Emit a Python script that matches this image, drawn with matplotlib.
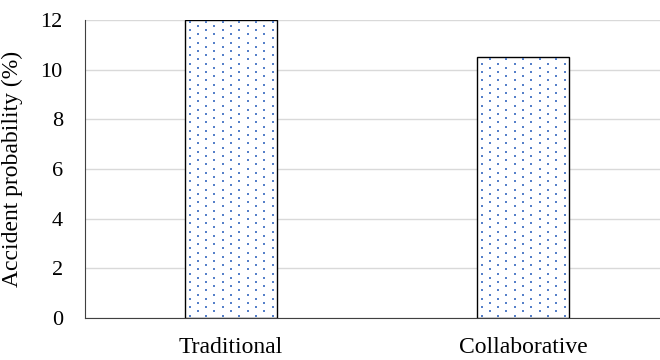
import matplotlib
matplotlib.use("Agg")
import matplotlib.pyplot as plt
import numpy as np

# data
categories = ["Traditional", "Collaborative"]
values = [12, 10.5]
y_ticks = [0, 2, 4, 6, 8, 10, 12]

plt.rcParams['font.family'] = ['Liberation Serif', 'DejaVu Serif']

W, H = 660, 360
fig = plt.figure(figsize=(W / 100, H / 100), dpi=100)
ax_l, ax_b, ax_w, ax_h = 85 / W, 42 / H, 584 / W, 298 / H
ax = fig.add_axes([ax_l, ax_b, ax_w, ax_h])

x = np.arange(len(categories))
bar_w = 0.315
ax.set_xlim(-0.5, len(categories) - 0.5)
ax.set_ylim(0, 12)

bars = ax.bar(x, values, width=bar_w, color='white', edgecolor='black',
              linewidth=1.0, zorder=3)

# dotted fill texture: rows every ~4.2 px, dots every ~16.7 px, staggered
px_x = len(categories) / (ax_w * W)
px_y = 12 / (ax_h * H)
for b in bars:
    x0, w, h = b.get_x(), b.get_width(), b.get_height()
    ys = np.arange(2.5 * px_y, h, 4.2 * px_y)
    pts_x, pts_y = [], []
    for i, yy in enumerate(ys):
        start = x0 + (4.5 if i % 2 == 0 else 12.8) * px_x
        xs = np.arange(start, x0 + w - 1.5 * px_x, 16.6 * px_x)
        pts_x.extend(xs)
        pts_y.extend([yy] * len(xs))
    ax.scatter(pts_x, pts_y, s=1.1, marker='s', color='#4472C4',
               linewidths=0, zorder=4, alpha=0.9)

ax.set_yticks(y_ticks)
ax.set_xticks(x)
ax.set_xticklabels(categories, fontsize=17)
ax.tick_params(axis='y', labelsize=16, length=0, pad=16)
ax.tick_params(axis='x', length=0, pad=13.5)
ax.set_ylabel("Accident probability (%)", fontsize=17)
ax.yaxis.set_label_coords(-0.106, 0.5)

ax.yaxis.grid(True, color='#d9d9d9', linewidth=1.0, zorder=0)
for s in ['top', 'right']:
    ax.spines[s].set_visible(False)
ax.spines['left'].set_color('#404040')
ax.spines['bottom'].set_color('#404040')
ax.spines['bottom'].set_zorder(5)

fig.savefig("out.png", dpi=100)
